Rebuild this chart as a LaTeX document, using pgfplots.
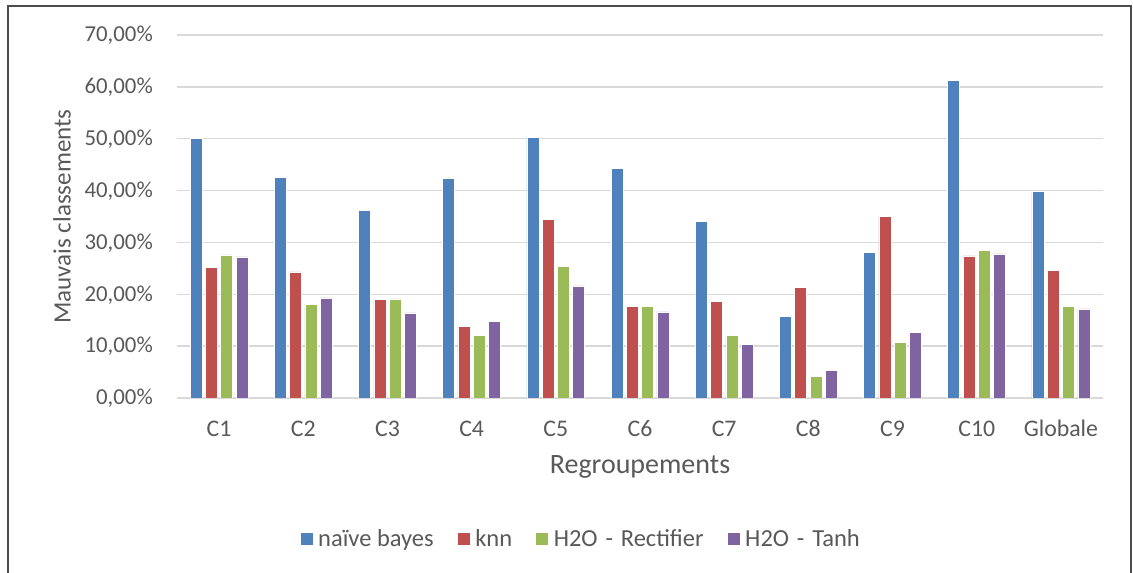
\documentclass[border=0pt]{standalone}
\usepackage{fontspec}
\setmainfont{Carlito}
\usepackage{pgfplots}
\pgfplotsset{compat=1.18}
\definecolor{cblue}{HTML}{4F81BD}
\definecolor{cred}{HTML}{C0504D}
\definecolor{cgreen}{HTML}{9BBB59}
\definecolor{cpurple}{HTML}{8064A2}
\definecolor{gridc}{HTML}{D9D9D9}
\definecolor{txt}{HTML}{595959}
\begin{document}
\begin{tikzpicture}
\useasboundingbox (0,0) rectangle (1133bp,573bp);
\draw[color=black!70, line width=1.2bp] (8bp,567bp) rectangle (1131bp,-20bp);
\begin{axis}[
  at={(177bp,175bp)}, anchor=south west,
  scale only axis, width=926bp, height=363bp,
  ybar, bar width=12bp, ybar=3.3bp,
  xmin=-0.5, xmax=10.5, ymin=0, ymax=70,
  xtick=data,
  xticklabels={C1,C2,C3,C4,C5,C6,C7,C8,C9,C10,Globale},
  ytick={0,10,20,30,40,50,60,70},
  yticklabels={{0,00\%},{10,00\%},{20,00\%},{30,00\%},{40,00\%},{50,00\%},{60,00\%},{70,00\%}},
  major tick length=0pt,
  axis line style={draw=none},
  ymajorgrids, grid style={color=gridc, line width=1.4bp},
  tick label style={font=\fontsize{22.8bp}{26bp}\selectfont, text=txt, inner sep=0pt},
  xticklabel style={anchor=base, yshift=-38.5bp, font=\fontsize{23.8bp}{26bp}\selectfont},
  yticklabel style={anchor=base east, xshift=-24bp, yshift=-6.8bp},
  xlabel={Regroupements}, ylabel={Mauvais classements},
  label style={text=txt},
  xlabel style={at={(axis description cs:0.5,-0.19)}, anchor=center, font=\fontsize{28bp}{32bp}\selectfont},
  ylabel style={at={(axis description cs:-0.1242,0.5)}, anchor=center, font=\fontsize{25bp}{28bp}\selectfont},
  legend columns=4,
  legend style={at={(axis description cs:0.436,-0.388)}, anchor=center, draw=none,
    font=\fontsize{24.5bp}{28bp}\selectfont, text=txt,
    /tikz/every odd column/.append style={column sep=3bp},
    /tikz/every even column/.append style={column sep=21bp}},
  legend image code/.code={\fill[#1] (0bp,-6.5bp) rectangle (13bp,6.5bp);},
  every axis plot/.append style={draw=white, line width=0.6bp},
]
\addplot[fill=cblue] coordinates {(0,50.1) (1,42.6) (2,36.1) (3,42.4) (4,50.2) (5,44.3) (6,34.1) (7,15.7) (8,28.1) (9,61.2) (10,39.8)};
\addplot[fill=cred] coordinates {(0,25.2) (1,24.3) (2,19.0) (3,13.8) (4,34.5) (5,17.6) (6,18.6) (7,21.4) (8,35.0) (9,27.4) (10,24.6)};
\addplot[fill=cgreen] coordinates {(0,27.6) (1,18.1) (2,19.1) (3,12.1) (4,25.4) (5,17.7) (6,12.1) (7,4.2) (8,10.7) (9,28.5) (10,17.7)};
\addplot[fill=cpurple] coordinates {(0,27.2) (1,19.3) (2,16.4) (3,14.8) (4,21.6) (5,16.6) (6,10.3) (7,5.3) (8,12.7) (9,27.8) (10,17.2)};
\legend{naïve bayes, knn, H2O\hspace{0.32em}-\hspace{0.32em}Rectifier, H2O\hspace{0.32em}-\hspace{0.32em}Tanh}
\end{axis}
\end{tikzpicture}
\end{document}
